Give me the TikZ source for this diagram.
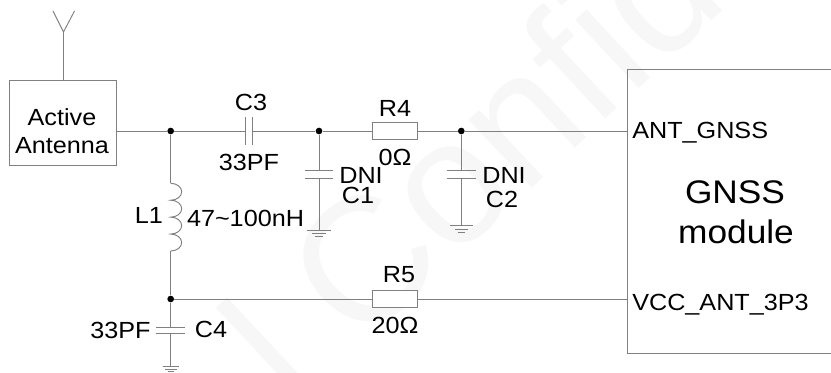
\documentclass[tikz,border=0pt]{standalone}
\usepackage{fontspec}
\setmainfont[FakeStretch=1.08]{Liberation Sans}
\newfontfamily\markfont{Liberation Sans}
\tikzset{
    wire/.style={draw=black!50,line width=0.7pt},
    dot/.style={circle,fill=black,inner sep=0pt,minimum size=5pt},
    res/.style={draw=black!50,fill=white,line width=0.7pt,inner sep=0pt,minimum width=33.5pt,minimum height=13pt},
    lbl/.style={inner sep=0pt,font=\fontsize{17.5}{20}\selectfont},
    pin/.style={lbl,anchor=base west},
    big/.style={inner sep=0pt,font=\fontsize{24.5}{28}\selectfont}
}
\begin{document}
\begin{tikzpicture}[x=0.75pt,y=-0.75pt]
        \useasboundingbox (0,0) rectangle (831,372);
        % watermark
        \node[rotate=43,text=black!3,font=\markfont\fontsize{132}{134}\selectfont,inner sep=0pt] (mark) at (470,160) {l Confid};

        % antenna box
        \draw[wire] (9.5,80) rectangle (116.5,165);
        \coordinate (boxtop) at (63.5,80);
        \coordinate (boxout) at (116.5,131);
        \node[lbl] (txtA) at (62,117) {Active};
        \node[lbl] (txtB) at (62,146) {Antenna};
        \coordinate (aerial) at (63.5,32);
        \coordinate (aerialL) at (53,11);
        \coordinate (aerialR) at (74.5,11);
        \draw[wire] (boxtop) -- (aerial);
        \draw[wire] (aerialL) -- (aerial) -- (aerialR);

        % module box, runs off the right side
        \draw[wire] (831,69.5) -- (627,69.5) -- (627,353) -- (831,353);
        \coordinate (pinA) at (627,131);
        \coordinate (pinB) at (627,299);
        \node[pin] (txtC) at (632,138.3) {ANT\_GNSS};
        \node[pin] (txtD) at (632,310) {VCC\_ANT\_3P3};
        \node[big] (txtE) at (735,192) {GNSS};
        \node[big] (txtF) at (736,232) {module};

        % top line
        \node[dot] (j1) at (170.7,131) {};
        \node[dot] (j2) at (319,131) {};
        \node[dot] (j3) at (461.3,131) {};
        \node[res] (R4) at (394.8,131) {};
        \coordinate (C3a) at (245.7,131);
        \coordinate (C3b) at (252.3,131);
        \draw[wire] (boxout) -- (j1) -- (C3a);
        \draw[wire] (C3b) -- (j2) -- (R4);
        \draw[wire] (R4) -- (j3) -- (pinA);
        \draw[wire] (245.7,117) -- (245.7,145);
        \draw[wire] (252.3,117) -- (252.3,145);
        \node[lbl] (lblC3) at (251,102) {C3};
        \node[lbl] (valC3) at (249,162) {33PF};
        \node[lbl] (lblR4) at (395,108) {R4};
        \node[lbl] (valR4) at (395,157) {0Ω};

        % C1
        \coordinate (C1a) at (319,170.7);
        \coordinate (C1b) at (319,178);
        \coordinate (gnd1) at (319,230);
        \draw[wire] (j2) -- (C1a);
        \draw[wire] (C1b) -- (gnd1);
        \draw[wire] (304.7,170.7) -- (333,170.7);
        \draw[wire] (304.7,178) -- (333,178);
        \draw[wire] (307.3,230) -- (330.7,230);
        \draw[wire] (312,233.3) -- (326,233.3);
        \draw[wire] (315,236.7) -- (323,236.7);
        \node[lbl] (valC1) at (361,175) {DNI};
        \node[lbl] (lblC1) at (358,195) {C1};

        % C2
        \coordinate (C2a) at (461.3,170.7);
        \coordinate (C2b) at (461.3,178);
        \coordinate (gnd2) at (461.3,225.7);
        \draw[wire] (j3) -- (C2a);
        \draw[wire] (C2b) -- (gnd2);
        \draw[wire] (446.7,170.7) -- (476,170.7);
        \draw[wire] (446.7,178) -- (476,178);
        \draw[wire] (450,225.7) -- (472.7,225.7);
        \draw[wire] (454.5,229) -- (468,229);
        \draw[wire] (457.5,232.3) -- (465,232.3);
        \node[lbl] (valC2) at (504,175) {DNI};
        \node[lbl] (lblC2) at (502,199) {C2};

        % L1
        \coordinate (L1a) at (170.7,183.3);
        \coordinate (L1b) at (170.7,251);
        \node[dot] (j4) at (170.7,299) {};
        \draw[wire] (j1) -- (L1a);
        \draw[wire] (L1a) arc[start angle=90,end angle=-90,x radius=11,y radius=-8.46]
            arc[start angle=90,end angle=-90,x radius=11,y radius=-8.46]
            arc[start angle=90,end angle=-90,x radius=11,y radius=-8.46]
            arc[start angle=90,end angle=-90,x radius=11,y radius=-8.46];
        \draw[wire] (L1b) -- (j4);
        \node[lbl] (lblL1) at (149,215) {L1};
        \node[lbl] (valL1) at (245.5,218) {47\char`\~100nH};

        % bottom line
        \node[res] (R5) at (394.8,299) {};
        \draw[wire] (j4) -- (R5);
        \draw[wire] (R5) -- (pinB);
        \node[lbl] (lblR5) at (399,275) {R5};
        \node[lbl] (valR5) at (395,325) {20Ω};

        % C4
        \coordinate (C4a) at (170.7,327.3);
        \coordinate (C4b) at (170.7,333.7);
        \coordinate (gnd3) at (170.7,366);
        \draw[wire] (j4) -- (C4a);
        \draw[wire] (C4b) -- (gnd3);
        \draw[wire] (156,327.3) -- (185.3,327.3);
        \draw[wire] (156,333.7) -- (185.3,333.7);
        \draw[wire] (162.5,366) -- (179,366);
        \draw[wire] (165,369.3) -- (176.5,369.3);
        \draw[wire] (167.5,371.7) -- (174,371.7);
        \node[lbl] (valC4) at (120.5,330) {33PF};
        \node[lbl] (lblC4) at (211,329) {C4};
\end{tikzpicture}
\end{document}
